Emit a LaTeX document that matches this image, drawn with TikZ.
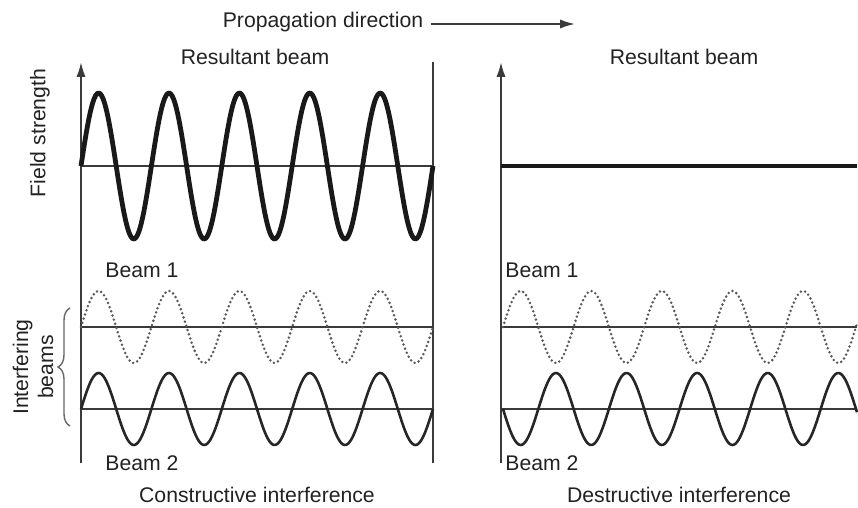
\documentclass[tikz,border=0pt]{standalone}
\usepackage{fontspec}
\setmainfont{Liberation Sans}
\usetikzlibrary{arrows.meta,positioning,decorations.pathreplacing}
\definecolor{cTinta}{HTML}{222222}
\definecolor{cEixo}{HTML}{3A3A3A}

\begin{document}
\begin{tikzpicture}[
  x=0.5pt,y=-0.5pt,font=\fontsize{10.6}{12.5}\selectfont,
  lbl/.style={text=cTinta,inner sep=3.5pt},
  eixo/.style={draw=cEixo,line width=0.9pt},
  seta/.style={-{Latex[length=2.6mm,width=1.6mm]},draw=cEixo,line width=0.9pt},
  res/.style={draw=black!90,line width=2.4pt,line join=round},
  onda/.style={draw=black!85,line width=1.3pt,line join=round},
  pont/.style={draw=black!65,line width=1.4pt,line cap=round,dash pattern=on 0pt off 2.2pt},
  chave/.style={draw=black!60,line width=0.7pt,decorate,decoration={brace,amplitude=6pt}}
]
\useasboundingbox (0,0) rectangle (858,508);

% ---- textos
\node[lbl] (prop) at (323,22) {Propagation direction};
\node[lbl] (resA) at (255,57) {Resultant beam};
\node[lbl] (resB) at (684,57) {Resultant beam};
\node[lbl,rotate=90] (campo) at (40,133) {Field strength};
\node[lbl,rotate=90,align=center] (interf) at (33,367) {Interfering\\ beams};
\node[lbl,anchor=west] (b1A) at (98,270) {Beam 1};
\node[lbl,anchor=west] (b2A) at (98,463) {Beam 2};
\node[lbl,anchor=west] (b1B) at (498,270) {Beam 1};
\node[lbl,anchor=west] (b2B) at (498,463) {Beam 2};
\node[lbl] (constr) at (257,495) {Constructive interference};
\node[lbl] (destr) at (679,495) {Destructive interference};

% ---- pontos
\coordinate (propFim) at (575,24);
\coordinate (eixoAtopo) at (81,62);  \coordinate (eixoAbase) at (81,463);
\coordinate (fimAtopo) at (433,62);  \coordinate (fimAbase) at (433,463);
\coordinate (eixoBtopo) at (501,62); \coordinate (eixoBbase) at (501,463);
\coordinate (chaveBase) at (70,426); \coordinate (chaveTopo) at (70,308);

% ---- eixos
\draw[seta] (prop.east |- propFim) -- (propFim);
\draw[seta] (eixoAbase) -- (eixoAtopo);
\draw[seta] (eixoBbase) -- (eixoBtopo);
\draw[eixo,line width=1.1pt] (fimAbase) -- (fimAtopo);
\draw[eixo] (81,166) -- (433,166);
\draw[eixo] (81,327) -- (433,327);
\draw[eixo] (81,409) -- (433,409);
\draw[eixo] (501,327) -- (857,327);
\draw[eixo] (501,409) -- (857,409);

% ---- interferencia construtiva
\draw[res] plot[domain=0:352,samples=240,smooth] ({81+\x},{166-73*sin(\x/70.4*360)});
\draw[pont] plot[domain=0:352,samples=240,smooth] ({81+\x},{327-36*sin(\x/70.4*360)});
\draw[onda] plot[domain=0:352,samples=240,smooth] ({81+\x},{409-36*sin(\x/70.4*360)});

% ---- interferencia destrutiva
\draw[res] (501,166) -- (857,166);
\draw[pont] plot[domain=0:354,samples=240,smooth] ({503+\x},{327-36*sin(\x/70.6*360)});
\draw[onda] plot[domain=0:354,samples=240,smooth] ({503+\x},{409+36*sin(\x/70.6*360)});

% ---- chave
\draw[chave] (chaveBase) -- (chaveTopo);
\end{tikzpicture}
\end{document}
